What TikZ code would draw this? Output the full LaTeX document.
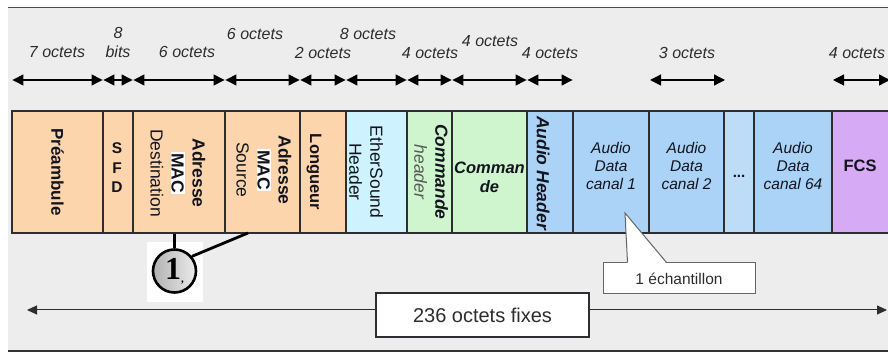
\documentclass[tikz,border=0pt]{standalone}
\usepackage{fontspec}
\setmainfont{Liberation Sans}
\newfontfamily\numfont{Liberation Serif}
\usetikzlibrary{arrows.meta,calc}

\definecolor{bggray}{RGB}{237,237,237}
\definecolor{peach}{RGB}{252,213,172}
\definecolor{ethcyan}{RGB}{206,243,255}
\definecolor{cmdgreen}{RGB}{206,245,206}
\definecolor{audblue}{RGB}{170,211,247}
\definecolor{dotblue}{RGB}{188,220,247}
\definecolor{fcspurple}{RGB}{214,170,245}
\definecolor{edge}{RGB}{45,45,50}
\definecolor{ink}{RGB}{20,20,30}
\definecolor{labelgray}{RGB}{45,45,45}

\newcommand\macword{{\setlength\fboxsep{0.8pt}\colorbox{white}{\bfseries MAC}}}

\tikzset{
  field/.style={draw=edge, line width=1.1pt, inner sep=0pt, minimum height=122pt},
  vtext/.style={rotate=-90, align=center, text=ink, inner sep=0pt,
                font=\fontsize{17.5}{21}\selectfont},
  htext/.style={align=center, text=ink, inner sep=0pt,
                font=\fontsize{15.5}{18}\selectfont\itshape},
  sizelbl/.style={text=labelgray, inner sep=0pt, align=center,
                  font=\fontsize{16}{19}\selectfont\itshape},
  dim/.style={line width=1.3pt, {Triangle[length=11pt,width=11pt]}-{Triangle[length=11pt,width=11pt]}},
  span/.style={line width=1pt, draw=edge, -{Triangle[length=10pt,width=9pt]}},
  callout/.style={draw=gray!80!black, line width=1pt, fill=white, inner sep=0pt},
}

\begin{document}
\begin{tikzpicture}[x=1pt,y=-1pt]
\useasboundingbox (0,0) rectangle (888,352);

% panel background and its rules
\fill[white] (0,0) rectangle (888,352);
\fill[bggray] (8,8) rectangle (888,350);
\draw[line width=1.6pt, draw=black!70] (8,7.5) -- (888,7.5);
\draw[line width=2pt, draw=black!80] (8,350.5) -- (888,350.5);

% frame fields
\node[field, fill=peach,     minimum width=91pt] (pre)  at (57.5,172) {};
\node[field, fill=peach,     minimum width=30pt] (sfd)  at (118,172) {};
\node[field, fill=peach,     minimum width=92pt] (dst)  at (179,172) {};
\node[field, fill=peach,     minimum width=75pt] (src)  at (262.5,172) {};
\node[field, fill=peach,     minimum width=46pt] (lng)  at (323,172) {};
\node[field, fill=ethcyan,   minimum width=61pt] (eth)  at (376.5,172) {};
\node[field, fill=cmdgreen,  minimum width=45pt] (cmh)  at (429.5,172) {};
\node[field, fill=cmdgreen,  minimum width=75pt] (cmd)  at (489.5,172) {};
\node[field, fill=audblue,   minimum width=46pt] (auh)  at (550,172) {};
\node[field, fill=audblue,   minimum width=76pt] (ad1)  at (611,172) {};
\node[field, fill=audblue,   minimum width=75pt] (ad2)  at (686.5,172) {};
\node[field, fill=dotblue,   minimum width=30pt] (dts)  at (739,172) {};
\node[field, fill=audblue,   minimum width=78pt] (ad64) at (793,172) {};
\node[field, fill=fcspurple, minimum width=68pt] (fcs)  at (866,172) {};

% field captions
\node[vtext, font=\fontsize{17}{21}\selectfont\bfseries] at (57.5,172) {Préambule};
\node[align=center, text=ink, inner sep=0pt, font=\fontsize{15.5}{19.5}\selectfont\bfseries] at (117,168) {S\\F\\D};
\node[vtext] at (178,173) {\textbf{Adresse}\\\macword\\Destination};
\node[vtext] at (264,170) {\textbf{Adresse}\\\macword\\Source};
\node[vtext, font=\fontsize{16.5}{20}\selectfont\bfseries] at (314,172) {Longueur};
\node[vtext] at (366,172) {EtherSound\\Header};
\node[vtext] at (431,172) {\textbf{\itshape Commande}\\{\itshape\color{black!65}header}};
\node[htext, font=\fontsize{16.5}{19}\selectfont\bfseries\itshape] at (489.5,177) {Comman\\de};
\node[vtext, font=\fontsize{17.5}{21}\selectfont\bfseries\itshape] at (543,173) {Audio Header};
\node[htext] at (611,166) {Audio\\Data\\canal 1};
\node[htext] at (686.5,166) {Audio\\Data\\canal 2};
\node[text=ink, inner sep=0pt, font=\fontsize{15}{15}\selectfont\bfseries] at (739,176) {...};
\node[htext] at (793,166) {Audio\\Data\\canal 64};
\node[text=ink, inner sep=0pt, font=\fontsize{16.5}{16}\selectfont\bfseries] at (860,166) {FCS};

% size markers above the fields
\coordinate (top) at (0,80);
\foreach \f in {pre,sfd,dst,src,lng,eth,cmh,cmd,auh}
  \draw[dim, shorten <=1pt, shorten >=1pt] (\f.west |- top) -- (\f.east |- top);
\coordinate (c3a) at (650,80);
\coordinate (c3b) at (725,80);
\draw[dim] (c3a) -- (c3b);
\coordinate (c4a) at (833,80);
\coordinate (c4b) at (890,80);
\draw[dim] (c4a) -- (c4b);

\node[sizelbl] at (57,52) {7 octets};
\node[sizelbl] at (118,42) {8\\bits};
\node[sizelbl] at (187,52) {6 octets};
\node[sizelbl] at (255,34) {6 octets};
\node[sizelbl] at (323,53) {2 octets};
\node[sizelbl] at (368,34) {8 octets};
\node[sizelbl] at (430,53) {4 octets};
\node[sizelbl] at (490,41) {4 octets};
\node[sizelbl] at (550,53) {4 octets};
\node[sizelbl] at (687,53) {3 octets};
\node[sizelbl] at (857,53) {4 octets};

% marker 1 pointing at both MAC addresses
\fill[white] (147,242) rectangle (203,302);
\node[circle, draw=black, line width=2.6pt, minimum size=43pt, inner sep=0pt,
      left color=black!30, right color=blue!4!black!8] (one) at (174.5,271)
      {\numfont\fontsize{32}{32}\selectfont\bfseries 1\raisebox{-3pt}{\fontsize{11}{11}\selectfont,}};
\draw[line width=2.8pt] (one.north) -- (one.north |- dst.south);
\coordinate (srcfoot) at (248,233);
\draw[line width=2.8pt] (one.40) -- (srcfoot);

% callout for one sample
\node[callout, minimum width=152pt, minimum height=31pt,
      font=\fontsize{15.5}{15.5}\selectfont, text=labelgray] (ech) at (679,278.5) {1 échantillon};
\coordinate (tip) at (625,213);
\coordinate (bl) at ($(ech.north west)+(25,0)$);
\coordinate (br) at ($(ech.north west)+(64,0)$);
\fill[white] ($(bl)+(0,1)$) -- (tip) -- ($(br)+(0,1)$) -- cycle;
\draw[draw=gray!80!black, line width=1pt] (bl) -- (tip) -- (br);

% total frame length
\node[draw=edge, line width=1.1pt, fill=white, minimum width=213pt, minimum height=44pt,
      font=\fontsize{20}{20}\selectfont, text=labelgray] (tot) at (482.5,315) {236 octets fixes};
\coordinate (lend) at (27,310);
\coordinate (rend) at (887,310);
\draw[span] (tot.west |- lend) -- (lend);
\draw[span] (tot.east |- rend) -- (rend);
\end{tikzpicture}
\end{document}
